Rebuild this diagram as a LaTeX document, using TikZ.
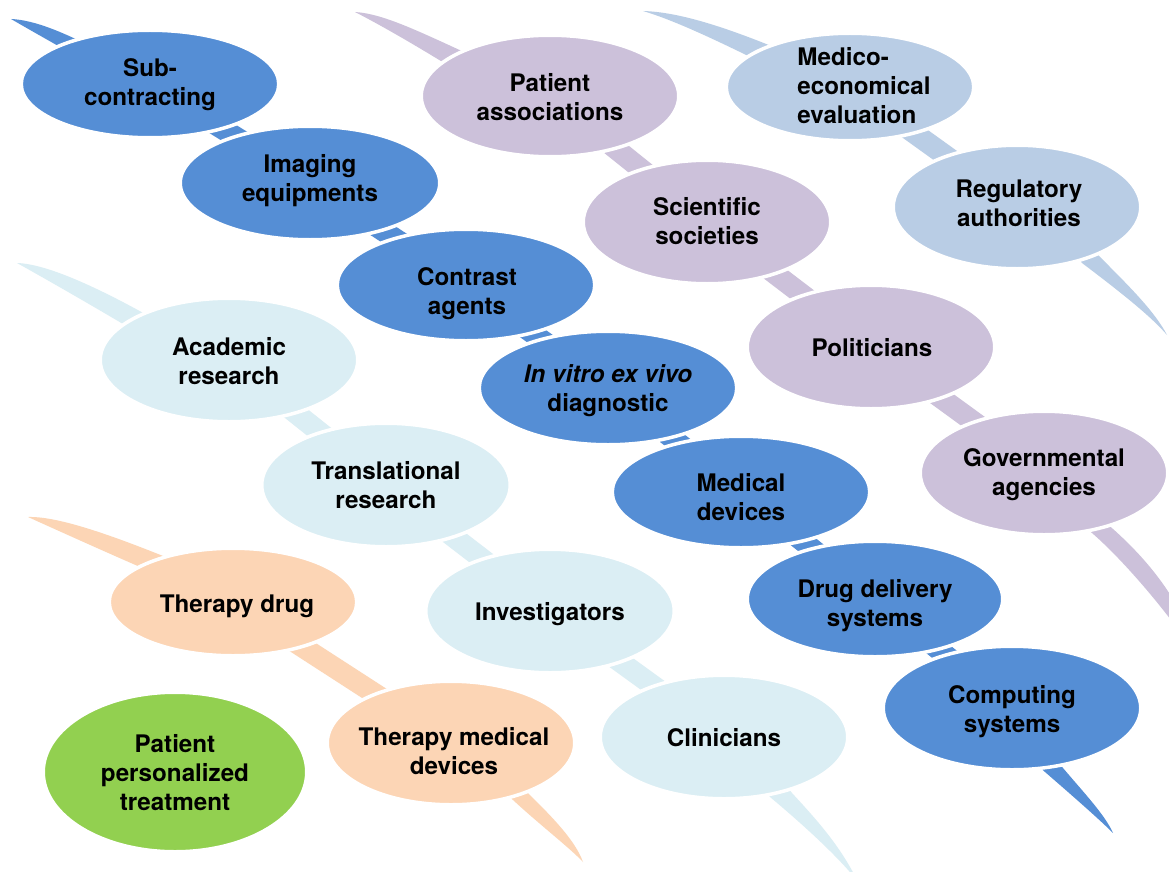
\documentclass[tikz,border=0pt]{standalone}
\usepackage{fontspec}
\setmainfont{TeX Gyre Heros}
\usetikzlibrary{shapes.geometric}
\pgfdeclarelayer{bg}
\pgfsetlayers{bg,main}
\definecolor{cB}{RGB}{85,142,213}
\definecolor{cP}{RGB}{204,193,218}
\definecolor{cS}{RGB}{185,205,229}
\definecolor{cC}{RGB}{219,238,244}
\definecolor{cO}{RGB}{252,213,181}
\definecolor{cG}{RGB}{146,208,80}
\tikzset{
  bub/.style={ellipse, draw=white, line width=3.5pt, inner sep=0pt, fill=#1},
  txt/.style={align=center, inner sep=0pt, text=black, font=\fontsize{24.2}{29.3}\selectfont\bfseries},
  band/.style={draw=#1, line width=21pt, line cap=butt},
  tailshape/.style={fill=#1, draw=none},
}
\begin{document}
\begin{tikzpicture}[x=1pt, y=-1pt]
\useasboundingbox (0,0) rectangle (1169,872);
\clip (0,0) rectangle (1169,872);

% ---------- bubbles: dark blue chain ----------
\node[bub=cB, minimum width=257.5pt, minimum height=107.5pt] (sub)  at (150,84)  {};
\node[bub=cB, minimum width=259.5pt, minimum height=113.5pt] (img)  at (310,183) {};
\node[bub=cB, minimum width=257.5pt, minimum height=111.5pt] (con)  at (466,285) {};
\node[bub=cB, minimum width=257.5pt, minimum height=113.5pt] (ivd)  at (608,388) {};
\node[bub=cB, minimum width=257.5pt, minimum height=111.5pt] (med)  at (741,492) {};
\node[bub=cB, minimum width=255.5pt, minimum height=115.5pt] (drug) at (875,599) {};
\node[bub=cB, minimum width=257.5pt, minimum height=123.5pt] (comp) at (1012,708) {};
% ---------- purple chain ----------
\node[bub=cP, minimum width=257.5pt, minimum height=121.5pt] (pa)  at (550,96)  {};
\node[bub=cP, minimum width=247.5pt, minimum height=123.5pt] (sci) at (707,222) {};
\node[bub=cP, minimum width=247.5pt, minimum height=123.5pt] (pol) at (871,347) {};
\node[bub=cP, minimum width=247.5pt, minimum height=123.5pt] (gov) at (1044,473) {};
% ---------- steel blue chain ----------
\node[bub=cS, minimum width=247.5pt, minimum height=107.5pt] (mee) at (850,87)  {};
\node[bub=cS, minimum width=247.5pt, minimum height=123.5pt] (reg) at (1017,207) {};
% ---------- light cyan chain ----------
\node[bub=cC, minimum width=257.5pt, minimum height=123.5pt] (acad)  at (229,360) {};
\node[bub=cC, minimum width=248.5pt, minimum height=123.5pt] (trans) at (386,485) {};
\node[bub=cC, minimum width=248.5pt, minimum height=123.5pt] (inv)   at (550,611) {};
\node[bub=cC, minimum width=247.5pt, minimum height=123.5pt] (clin)  at (724,737) {};
% ---------- peach chain ----------
\node[bub=cO, minimum width=247.5pt, minimum height=107.5pt] (td)  at (233,602) {};
\node[bub=cO, minimum width=247.5pt, minimum height=123.5pt] (tmd) at (451,743) {};
% ---------- green ----------
\node[bub=cG, minimum width=263.5pt, minimum height=159.5pt] (ppt) at (175,772) {};

% ---------- texts (each line strutted) ----------
\node[txt] (tsub)   at (150,84.8)   {\strut Sub-\\contracting\strut};
\node[txt] (timg)   at (310,180.8)  {\strut Imaging\\equipments\strut};
\node[txt] (tcon)   at (467,293.8)  {\strut Contrast\\agents\strut};
\node[txt] (tivd)   at (608,391.3)  {\strut\textit{In vitro ex vivo}\\diagnostic\strut};
\node[txt] (tmed)   at (741,499.8)  {\strut Medical\\devices\strut};
\node[txt] (tdrug)  at (875,605.8)  {\strut Drug delivery\\systems\strut};
\node[txt] (tcomp)  at (1012,711.8) {\strut Computing\\systems\strut};
\node[txt] (tpa)    at (550,99.8)   {\strut Patient\\associations\strut};
\node[txt] (tsci)   at (707,223.8)  {\strut Scientific\\societies\strut};
\node[txt] (tpol)   at (872,350.2)  {\strut Politicians\strut};
\node[txt] (tgov)   at (1044,475.3) {\strut Governmental\\agencies\strut};
\node[txt, align=left] (tmee) at (864,88.5) {\strut Medico-\\economical\\evaluation\strut};
\node[txt] (treg)   at (1019,205.8) {\strut Regulatory\\authorities\strut};
\node[txt] (tacad)  at (229,363.8)  {\strut Academic\\research\strut};
\node[txt] (ttrans) at (386,487.8)  {\strut Translational\\research\strut};
\node[txt] (tinv)   at (550,614.2)  {\strut Investigators\strut};
\node[txt] (tclin)  at (724,740.2)  {\strut Clinicians\strut};
\node[txt] (ttd)    at (237,606.2)  {\strut Therapy drug\strut};
\node[txt] (ttmd)   at (454,753.8)  {\strut Therapy medical\\devices\strut};
\node[txt] (tppt)   at (175,775.5)  {\strut Patient\\personalized\\treatment\strut};

% ---------- tail tips ----------
\coordinate (tipB1) at (11,19);
\coordinate (tipB2) at (1113,833);
\coordinate (tipP1) at (355,12);
\coordinate (tipP2) at (1200,662);
\coordinate (tipS1) at (643,11);
\coordinate (tipS2) at (1167,335);
\coordinate (tipC1) at (17,263);
\coordinate (tipC2) at (858,882);
\coordinate (tipO1) at (28,517);
\coordinate (tipO2) at (583,862);

\begin{pgfonlayer}{bg}
\fill[white] (0,0) rectangle (1169,872);
% connectors
\draw[band=cB] (sub.center) -- (img.center);
\draw[band=cB] (img.center) -- (con.center);
\draw[band=cB] (con.center) -- (ivd.center);
\draw[band=cB] (ivd.center) -- (med.center);
\draw[band=cB] (med.center) -- (drug.center);
\draw[band=cB] (drug.center) -- (comp.center);
\draw[band=cP] (pa.center) -- (sci.center);
\draw[band=cP] (sci.center) -- (pol.center);
\draw[band=cP] (pol.center) -- (gov.center);
\draw[band=cS] (mee.center) -- (reg.center);
\draw[band=cC] (acad.center) -- (trans.center);
\draw[band=cC] (trans.center) -- (inv.center);
\draw[band=cC] (inv.center) -- (clin.center);
\draw[band=cO] (td.center) -- (tmd.center);
% top tails
\fill[tailshape=cB] (tipB1) .. controls (35,20) and (65,33) .. (100,51) -- (sub.center) -- (85,61) .. controls (60,47) and (30,30) .. (tipB1) -- cycle;
\fill[tailshape=cP] (tipP1) .. controls (385,14) and (420,32) .. (490,64) -- (pa.center) -- (475,82) .. controls (430,54) and (390,30) .. (tipP1) -- cycle;
\fill[tailshape=cS] (tipS1) .. controls (680,12) and (730,28) .. (800,58) -- (mee.center) -- (785,74) .. controls (730,47) and (680,22) .. (tipS1) -- cycle;
\fill[tailshape=cC] (tipC1) .. controls (50,264) and (110,293) .. (175,331) -- (acad.center) -- (160,346) .. controls (110,316) and (60,287) .. (tipC1) -- cycle;
\fill[tailshape=cO] (tipO1) .. controls (60,516) and (120,538) .. (190,567) -- (td.center) -- (175,582) .. controls (130,563) and (70,536) .. (tipO1) -- cycle;
% bottom tails
\fill[tailshape=cB] (comp.center) -- (1040,741) -- (1063,768) .. controls (1085,794) and (1105,815) .. (tipB2) .. controls (1100,820) and (1075,798) .. (1045,772) -- (1020,750) -- cycle;
\fill[tailshape=cP] (gov.center) -- (1085,505) -- (1113,529) .. controls (1150,562) and (1185,605) .. (tipP2) .. controls (1180,628) and (1130,566) .. (1092,533) -- (1070,515) -- cycle;
\fill[tailshape=cS] (reg.center) -- (1075,232) -- (1100,257) .. controls (1130,287) and (1155,312) .. (tipS2) .. controls (1150,315) and (1115,288) .. (1082,263) -- (1060,240) -- cycle;
\fill[tailshape=cC] (clin.center) -- (770,765) -- (792,793) .. controls (815,818) and (840,845) .. (tipC2) .. controls (840,858) and (800,822) .. (770,797) -- (750,775) -- cycle;
\fill[tailshape=cO] (tmd.center) -- (505,770) -- (530,795) .. controls (552,817) and (575,840) .. (tipO2) .. controls (570,848) and (540,825) .. (513,800) -- (490,780) -- cycle;
\end{pgfonlayer}
\end{tikzpicture}
\end{document}
